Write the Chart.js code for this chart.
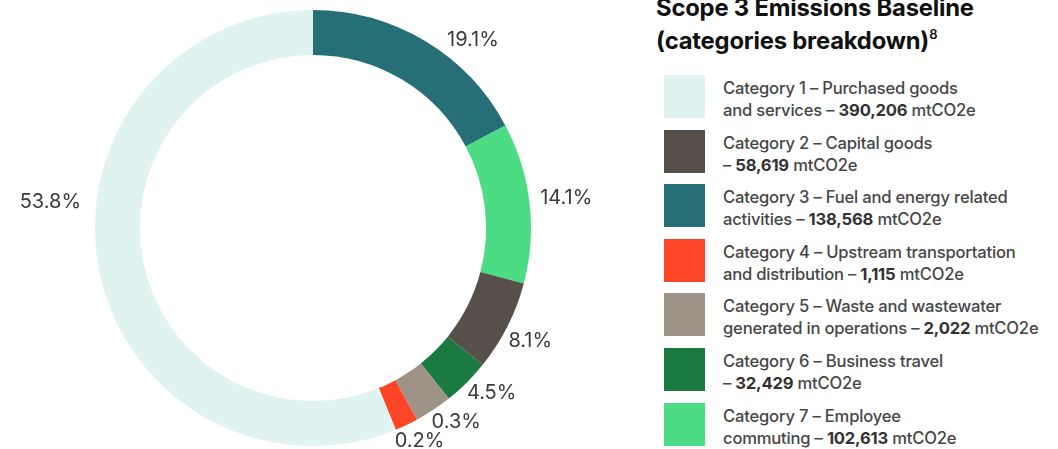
<!DOCTYPE html>
<html lang="en">
<head>
  <meta charset="utf-8"/>
  <title>Scope 3 Emissions Baseline</title>
  <script src="https://cdn.jsdelivr.net/npm/chart.js"></script>
  <style>
    html, body { margin: 0; padding: 0; background: #fff; }
    body { width: 1058px; height: 449px; position: relative; overflow: hidden; font-family: Inter, "Open Sans", sans-serif; }
    #chartBox { position: absolute; left: 0; top: 0; width: 626px; height: 449px; }
    .title { position: absolute; left: 656px; top: -9px; font-size: 23.8px; font-weight: 700; color: #111; line-height: 33px; letter-spacing: -0.2px; }
    .title sup { font-size: 13px; font-weight: 600; vertical-align: 10px; line-height: 0; }
    .item { position: absolute; left: 664px; height: 43px; width: 390px; }
    .swatch { position: absolute; left: 0; top: 0; width: 41px; height: 43px; }
    .txt { position: absolute; left: 59px; top: 2px; font-size: 16.6px; font-weight: 500; line-height: 22px; color: #464646; white-space: nowrap; letter-spacing: -0.2px; }
    .txt b { color: #333; font-weight: 700; }
  </style>
</head>
<body>
  <div id="chartBox"><canvas id="donut"></canvas></div>
  <div class="title">Scope 3 Emissions Baseline<br>(categories breakdown)<sup>8</sup></div>
  <div id="legend"></div>

<script>
  // categories in legend order
  const catHead = [
    "Category 1 – Purchased goods",
    "Category 2 – Capital goods",
    "Category 3 – Fuel and energy related",
    "Category 4 – Upstream transportation",
    "Category 5 – Waste and wastewater",
    "Category 6 – Business travel",
    "Category 7 – Employee"
  ];
  const catTail = [
    "and services –",
    "–",
    "activities –",
    "and distribution –",
    "generated in operations –",
    "–",
    "commuting –"
  ];
  const emissions = [390206, 58619, 138568, 1115, 2022, 32429, 102613]; // mtCO2e
  const catColors = ["#e1f3f0", "#574f4a", "#276f77", "#fe4528", "#9e9386", "#1b7a3f", "#4bdc84"];

  // ring order, clockwise from 12 o'clock (index into the arrays above)
  const ringOrder = [2, 6, 1, 5, 4, 3, 0];
  // share of the circle each slice takes in the source graphic (%), small ones drawn enlarged
  const drawnShare = [17.2, 11.9, 6.7, 3.5, 2.8, 1.7, 56.2];

  const total = emissions.reduce((a, b) => a + b, 0);
  const pctText = emissions.map(v => (v / total * 100).toFixed(1) + '%');

  // legend
  const legend = document.getElementById('legend');
  catHead.forEach((h, i) => {
    const el = document.createElement('div');
    el.className = 'item';
    el.style.top = (75 + i * 54.6) + 'px';
    el.innerHTML = '<div class="swatch" style="background:' + catColors[i] + '"></div>' +
      '<div class="txt">' + h + '<br>' + catTail[i] + ' <b>' + emissions[i].toLocaleString('en-US') + '</b> mtCO2e</div>';
    legend.appendChild(el);
  });

  // percentage labels around the ring
  const labelPlugin = {
    id: 'pctLabels',
    afterDatasetsDraw(chart, args, opts) {
      const c = chart.ctx;
      const meta = chart.getDatasetMeta(0);
      c.save();
      c.font = '20px Inter, "Open Sans", sans-serif';
      c.fillStyle = '#3a3a3a';
      c.textAlign = 'center';
      c.textBaseline = 'middle';
      meta.data.forEach((arc, k) => {
        const mid = (arc.startAngle + arc.endAngle) / 2 + opts.shift[k] * Math.PI / 180;
        const r = arc.outerRadius + opts.dist[k];
        c.fillText(pctText[ringOrder[k]], arc.x + Math.cos(mid) * r, arc.y + Math.sin(mid) * r);
      });
      c.restore();
    }
  };

  new Chart(document.getElementById('donut'), {
    type: 'doughnut',
    data: {
      labels: ringOrder.map(i => catHead[i]),
      datasets: [{
        data: drawnShare,
        backgroundColor: ringOrder.map(i => catColors[i]),
        borderWidth: 0
      }]
    },
    options: {
      responsive: true,
      maintainAspectRatio: false,
      animation: false,
      cutout: '79.4%',
      layout: { padding: { top: 10, bottom: 3 } },
      plugins: {
        legend: { display: false },
        tooltip: { enabled: false },
        pctLabels: {
          shift: [9.4, 0, 0.7, -2.5, -3, -1.2, 16.9],
          dist: [29, 37, 27, 25, 23, 20, 46]
        }
      }
    },
    plugins: [labelPlugin]
  });
</script>
</body>
</html>
